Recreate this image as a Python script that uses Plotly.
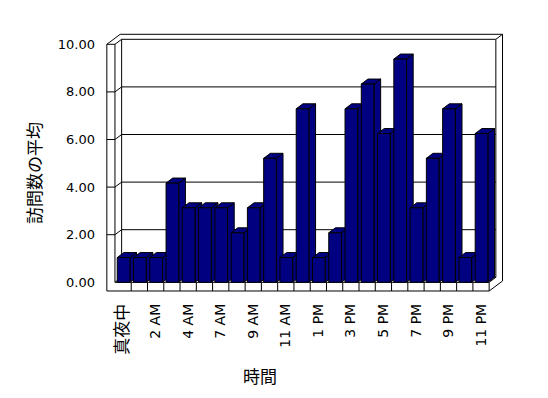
import plotly.graph_objects as go

# ---- data ----
hours = ["真夜中", "1 AM", "2 AM", "3 AM", "4 AM", "5 AM", "7 AM", "8 AM", "9 AM",
         "10 AM", "11 AM", "12 PM", "1 PM", "2 PM", "3 PM", "4 PM", "5 PM", "6 PM",
         "7 PM", "8 PM", "9 PM", "10 PM", "11 PM"]
avg_visits = [1.04, 1.04, 1.04, 4.17, 3.13, 3.13, 3.13, 2.08, 3.13,
              5.21, 1.04, 7.29, 1.04, 2.08, 7.29, 8.33, 6.25, 9.38,
              3.13, 5.21, 7.29, 1.04, 6.25]
y_ticks = [0, 2, 4, 6, 8, 10]
y_title = "訪問数の平均"
x_title = "時間"

# ---- style / geometry constants (not data) ----
NAVY = "#000080"
DX, DY = 0.41, 0.21          # oblique depth offset, axis units
BW, BOFF = 0.78, -0.36       # bar width and offset
WALL = 0.5                   # wall thickness (x units)
FLOOR = 0.365                # floor slab thickness (y units)
TOP = 10
FONT = "DejaVu Sans, Noto Sans CJK JP, sans-serif"
PAGE = 8                     # default body margin of the html page

n = len(hours)
xs = list(range(n))
shapes = []


def seg(x0, y0, x1, y1):
    shapes.append(dict(type="line", xref="x", yref="y", x0=x0, y0=y0, x1=x1, y1=y1,
                       line=dict(color="black", width=1), layer="below"))


def poly(pts, fill):
    d = "M " + " L ".join(f"{x:.4f},{y:.4f}" for x, y in pts) + " Z"
    shapes.append(dict(type="path", xref="x", yref="y", path=d, fillcolor=fill,
                       line=dict(color="black", width=1), layer="below"))


left_in = -0.5
left_out = left_in - WALL
right_in = n - 0.5
back_l = left_in + DX
back_r = right_in + DX
outer_r = back_r + DX
outer_top = TOP + 2 * DY

# back wall gridlines
for v in y_ticks:
    seg(back_l, v + DY, back_r, v + DY)
    seg(left_in, v, back_l, v + DY)
    if v > 0:
        seg(left_out, v, left_in, v)
# back wall edges
seg(back_l, DY, back_l, TOP + DY)
seg(back_r, DY, back_r, TOP + DY)
seg(back_r, TOP + DY, outer_r, outer_top)
seg(outer_r, outer_top, outer_r, -FLOOR + 2 * DY)
seg(left_out, TOP, left_out + 2 * DX, outer_top)
seg(left_out + 2 * DX, outer_top, outer_r, outer_top)
# left wall front
seg(left_out, -FLOOR, left_out, TOP)
seg(left_in, 0, left_in, TOP)
# floor front slab
seg(left_out, -FLOOR, right_in, -FLOOR)
seg(left_in, 0, right_in, 0)
for i in xs:
    seg(i + 0.5, -FLOOR, i + 0.5, 0)
seg(right_in, 0, back_r, DY)
seg(right_in, -FLOOR, outer_r, -FLOOR + 2 * DY)

# 3D sides and tops of bars (front faces drawn by the bar trace)
for i, v in zip(xs, avg_visits):
    x0 = i + BOFF
    x1 = x0 + BW
    poly([(x1, 0), (x1 + DX, DY), (x1 + DX, v + DY), (x1, v)], NAVY)
    poly([(x0, v), (x0 + DX, v + DY), (x1 + DX, v + DY), (x1, v)], NAVY)

tick_idx = xs[::2]
tick_txt = [hours[i] if i else f'<span style="font-size:17px">{hours[i]}</span>'
            for i in tick_idx]

fig = go.Figure(go.Bar(
    x=xs, y=avg_visits, width=BW, offset=BOFF,
    marker=dict(color=NAVY, line=dict(color="black", width=1)),
    customdata=hours, hovertemplate="%{customdata}: %{y:.2f}<extra></extra>",
))

# target pixel positions in the window, corrected for the page margin
L, R, T, B = 96 - PAGE, 515 - PAGE, 25 - PAGE, 300 - PAGE
px_per_x, px_per_y = 16.27, 23.8
x0_px, y0_px = 123.1 - PAGE, 282.3 - PAGE
xa = -(x0_px - L) / px_per_x
xb = xa + (R - L) / px_per_x
ya = -(B - y0_px) / px_per_y
yb = (y0_px - T) / px_per_y


def paper_x(px):
    return (px - PAGE - L) / (R - L)


def paper_y(py):
    return (B - (py - PAGE)) / (B - T)


fig.update_layout(
    width=548, height=398,
    margin=dict(l=L, r=548 - R, t=T, b=398 - B, pad=0),
    paper_bgcolor="white", plot_bgcolor="white",
    font=dict(family=FONT, size=13, color="black"),
    showlegend=False,
    shapes=shapes,
    xaxis=dict(range=[xa, xb], showgrid=False, zeroline=False, showline=False,
               ticks="", tickvals=tick_idx, ticktext=tick_txt, tickangle=-90,
               tickfont=dict(family=FONT, size=14, color="black"), automargin=False),
    yaxis=dict(range=[ya, yb], showgrid=False, zeroline=False, showline=False,
               ticks="", tickvals=y_ticks, tickformat=".2f",
               tickfont=dict(family=FONT, size=13, color="black"), automargin=False),
    annotations=[
        dict(text=y_title, xref="paper", yref="paper",
             x=paper_x(35), y=paper_y(173), textangle=-90,
             xanchor="center", yanchor="middle",
             showarrow=False, font=dict(family=FONT, size=17, color="black")),
        dict(text=x_title, xref="paper", yref="paper",
             x=paper_x(260), y=paper_y(377),
             xanchor="center", yanchor="middle",
             showarrow=False, font=dict(family=FONT, size=17, color="black")),
    ],
)

fig.write_html("out.html")
